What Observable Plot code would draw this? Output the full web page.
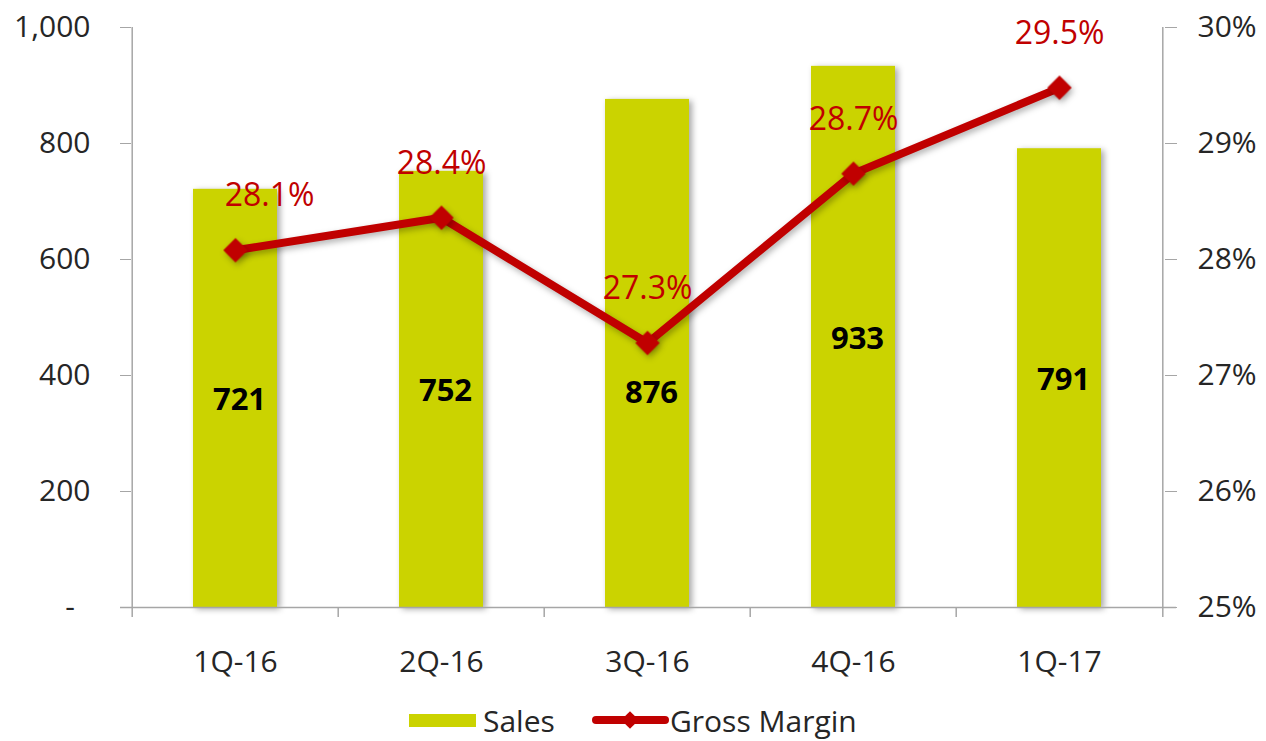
<!DOCTYPE html>
<html>
<head>
<meta charset="utf-8">
<script src="https://cdn.jsdelivr.net/npm/d3@7"></script>
<script src="https://cdn.jsdelivr.net/npm/@observablehq/plot@0.6"></script>
<style>
  html, body { margin: 0; padding: 0; background: #fff; }
  #wrap { position: relative; width: 1266px; height: 741px; font-family: "Open Sans", sans-serif; }
  #legend { position: absolute; left: 0; top: 690px; width: 1266px; height: 51px; }
</style>
</head>
<body>
<div id="wrap"><div id="chart"></div><div id="legend"></div></div>
<script>
const categories = ["1Q-16", "2Q-16", "3Q-16", "4Q-16", "1Q-17"];
const sales = [721, 752, 876, 933, 791];
const grossMargin = [28.08, 28.36, 27.28, 28.74, 29.48];
const salesTicks = [0, 200, 400, 600, 800, 1000];
const marginTicks = [25, 26, 27, 28, 29, 30];

const W = 1266, H = 690, mL = 131, mR = 102, mT = 27, mB = 83;
const step = (W - mL - mR) / categories.length;
const innerH = H - mT - mB;
const gmToY = g => (g - 25) * 200; // 25%..30% onto 0..1000
const table = categories.map((c, i) => ({cat: c, sales: sales[i], gm: grossMargin[i], i}));

const barColor = "#cbd300";
const lineColor = "#c00000";
const axisColor = "#a6a6a6";
const textColor = "#262626";

const chart = Plot.plot({
  width: W, height: H,
  marginLeft: mL, marginRight: mR, marginTop: mT, marginBottom: mB,
  style: {fontFamily: "Open Sans, sans-serif", fontSize: "30px", color: textColor, background: "#fff"},
  x: {domain: categories, paddingInner: 0.59, paddingOuter: 0.295, label: null},
  y: {domain: [0, 1000], label: null},
  marks: [
    Plot.barY(table, {x: "cat", y: "sales", fill: barColor, className: "bars"}),
    Plot.axisY(salesTicks, {anchor: "left", label: null, tickSize: 11, tickPadding: 30, stroke: axisColor, fill: textColor,
      tickFormat: d => d === 0 ? "-\u00a0\u00a0" : d3.format(",")(d), fontSize: 30}),
    Plot.axisY(marginTicks.map(gmToY), {anchor: "right", label: null, tickSize: 12, tickPadding: 21, stroke: axisColor, fill: textColor,
      tickFormat: d => (25 + d / 200) + "%", fontSize: 30}),
    Plot.axisX({label: null, tickSize: 0, tickPadding: 43, fill: textColor, fontSize: 30}),
    Plot.ruleY([0], {stroke: axisColor, strokeWidth: 1.5, insetLeft: -11, insetRight: -12}),
    Plot.ruleX([categories[0]], {dx: -step / 2, stroke: axisColor, strokeWidth: 1.5, insetBottom: -10}),
    Plot.ruleX([categories[categories.length - 1]], {dx: step / 2, stroke: axisColor, strokeWidth: 1.5, insetBottom: -10}),
    Plot.ruleX(categories.slice(1), {dx: -step / 2, stroke: axisColor, strokeWidth: 1.5, insetTop: innerH, insetBottom: -10}),
    Plot.line(table, {x: "cat", y: d => gmToY(d.gm), stroke: lineColor, strokeWidth: 8, className: "gmline"}),
    Plot.dot(table, {x: "cat", y: d => gmToY(d.gm), symbol: "diamond2", r: 11, fill: lineColor, stroke: "none", className: "gmline"}),
    Plot.text(table, {filter: d => d.i === 0, x: "cat", y: d => gmToY(d.gm), text: d => d.gm.toFixed(1) + "%",
      dy: -54, dx: 34, fill: lineColor, fontSize: 32}),
    Plot.text(table, {filter: d => d.i !== 0, x: "cat", y: d => gmToY(d.gm), text: d => d.gm.toFixed(1) + "%",
      dy: -54, fill: lineColor, fontSize: 32}),
    Plot.text(table, {filter: d => d.cat !== "3Q-16", x: "cat", y: d => d.sales / 2, text: d => String(d.sales),
      dx: 4, dy: 2, fill: "#000", fontWeight: "bold", fontSize: 31}),
    Plot.text(table, {filter: d => d.cat === "3Q-16", x: "cat", y: d => d.sales / 2, text: d => String(d.sales),
      dx: 4, dy: 40, fill: "#000", fontWeight: "bold", fontSize: 31})
  ]
});
document.getElementById("chart").appendChild(chart);
d3.select(chart).selectAll(".bars").style("filter", "drop-shadow(3px 2px 3px rgba(0,0,0,0.35))");
d3.select(chart).selectAll(".gmline").style("filter", "drop-shadow(2px 3px 3px rgba(0,0,0,0.3))");

const leg = d3.select("#legend").append("svg").attr("width", 1266).attr("height", 51)
  .style("font-family", "Open Sans, sans-serif").style("font-size", "30px");
leg.append("rect").attr("x", 409).attr("y", 24).attr("width", 67).attr("height", 13).attr("fill", barColor);
leg.append("text").attr("x", 483).attr("y", 42).attr("fill", textColor).text("Sales");
leg.append("line").attr("x1", 596).attr("x2", 665).attr("y1", 30).attr("y2", 30)
  .attr("stroke", lineColor).attr("stroke-width", 8).attr("stroke-linecap", "round");
leg.append("path").attr("d", d3.symbol(d3.symbolDiamond2, 200)()).attr("transform", "translate(630,30)").attr("fill", lineColor);
leg.append("text").attr("x", 670).attr("y", 42).attr("fill", textColor).text("Gross Margin");
</script>
</body>
</html>
